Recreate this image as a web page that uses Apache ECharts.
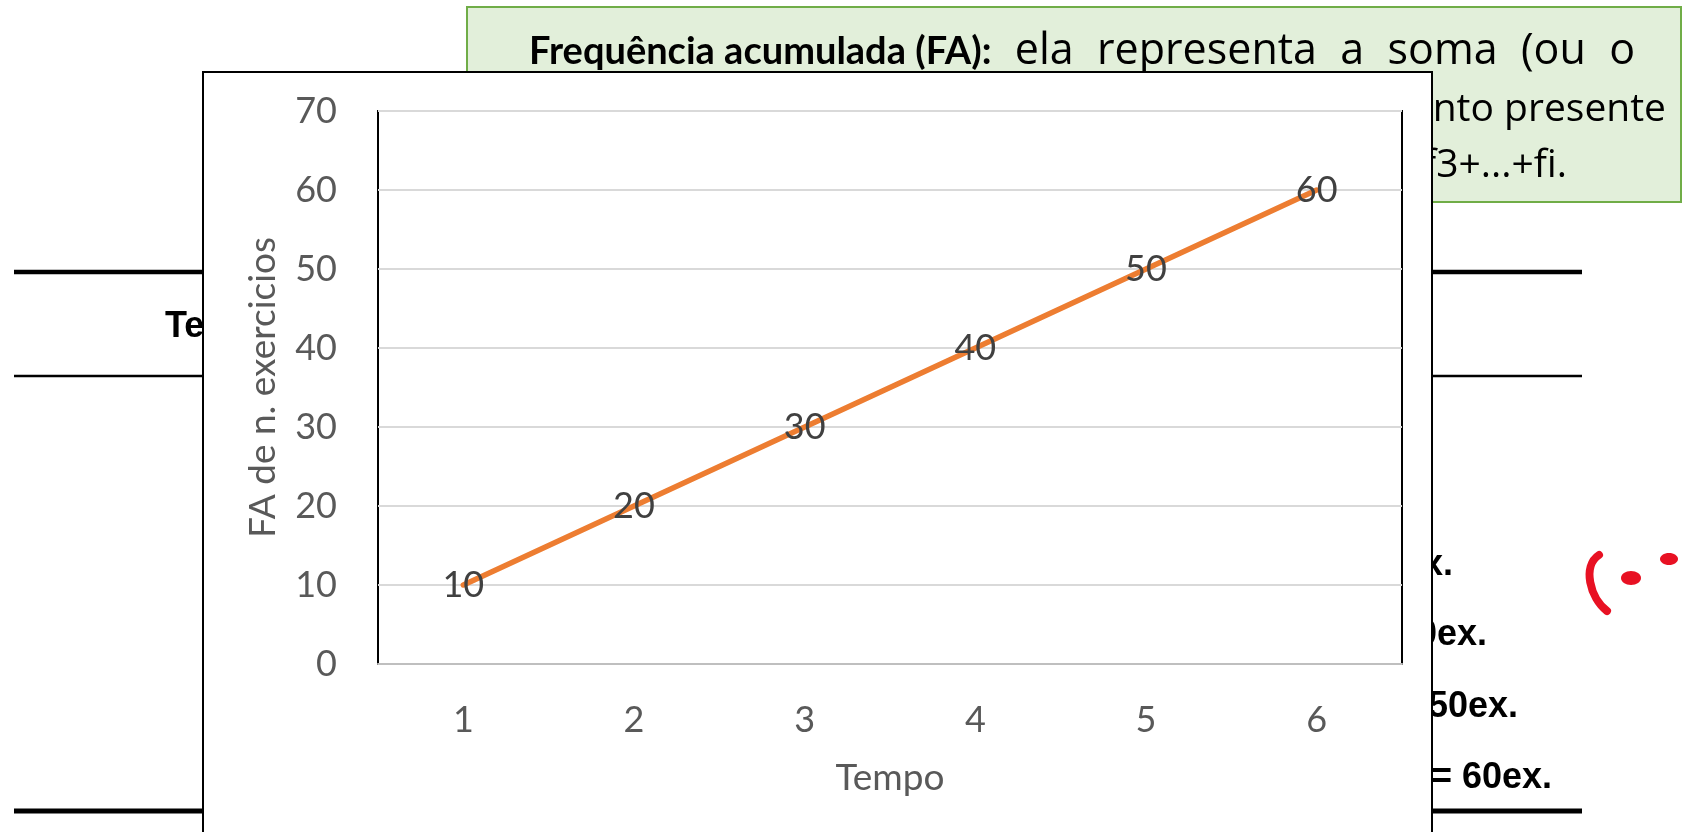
<!DOCTYPE html>
<html>
<head>
<meta charset="utf-8">
<script src="https://cdn.jsdelivr.net/npm/echarts@6/dist/echarts.min.js"></script>
<style>
  html, body { margin: 0; padding: 0; background: #fff; }
  #chart { width: 1683px; height: 832px; }
</style>
</head>
<body>
<div id="chart"></div>
<script>
// dados do grafico
var categories = ['1', '2', '3', '4', '5', '6']
var faValues = [10, 20, 30, 40, 50, 60]
var yMin = 0, yMax = 70, yStep = 10

// textos do slide por tras do grafico
var boxBold = 'Frequência acumulada (FA):'
var boxLines = [
  'ela representa a soma (ou o',
  'acúmulo) das frequências absolutas até o elemento presente',
  'na posição i, ou seja: FAi = f1+f2+f3+...+fi.'
]
var rowTexts = ['FA3 = 10+10+10 = 30ex.', 'FA4 = 10+10+10+10 = 40ex.', 'FA5 = 10+10+10+10+10 = 50ex.', 'FA6 = 10+10+10+10+10+10 = 60ex.']

var font = 'Lato, "Noto Sans", sans-serif'
var boxFont = '"Open Sans", "Noto Sans", sans-serif'
var bold = '"Liberation Sans", Arial, sans-serif'

var myChart = echarts.init(document.getElementById('chart'))

var bg = [
  // caixa verde
  { type: 'rect', z: -10, shape: { x: 467, y: 7, width: 1214, height: 195 },
    style: { fill: '#E2EFDA', stroke: '#70AD47', lineWidth: 2 } },
  { type: 'text', z: -9, x: 529, y: 52,
    style: { text: boxBold, verticalAlign: 'middle', fontSize: 38, fontWeight: 'bold', fontFamily: font, fill: '#000' } },
  { type: 'text', z: -9, x: 1666, y: 110,
    style: { text: boxLines[1], align: 'right', verticalAlign: 'middle', fontSize: 39, fontFamily: boxFont, fill: '#000' } },
  { type: 'text', z: -9, x: 1567, y: 166,
    style: { text: boxLines[2], align: 'right', verticalAlign: 'middle', fontSize: 39, fontFamily: boxFont, fill: '#000' } },
  // linhas da tabela
  { type: 'line', z: -10, shape: { x1: 14, y1: 272, x2: 1582, y2: 272 }, style: { stroke: '#000', lineWidth: 4.5 } },
  { type: 'line', z: -10, shape: { x1: 14, y1: 376, x2: 1582, y2: 376 }, style: { stroke: '#000', lineWidth: 2.5 } },
  { type: 'line', z: -10, shape: { x1: 14, y1: 811, x2: 1582, y2: 811 }, style: { stroke: '#000', lineWidth: 5 } },
  { type: 'text', z: -9, x: 165, y: 327,
    style: { text: 'Tempo', verticalAlign: 'middle', font: 'bold 36px ' + bold, fill: '#000' } },
  // marcas vermelhas
  { type: 'bezierCurve', z: 5, shape: { x1: 1599, y1: 555, x2: 1607, y2: 611, cpx1: 1582, cpy1: 566, cpx2: 1590, cpy2: 598 },
    style: { stroke: '#E81123', lineWidth: 8, fill: null, lineCap: 'round' } },
  { type: 'ellipse', z: 5, shape: { cx: 1631, cy: 578, rx: 10, ry: 7 }, style: { fill: '#E81123' } },
  { type: 'ellipse', z: 5, shape: { cx: 1669, cy: 559, rx: 9, ry: 6 }, style: { fill: '#E81123' } },
  // moldura do grafico
  { type: 'rect', z: -5, shape: { x: 203, y: 72, width: 1229, height: 800 },
    style: { fill: '#fff', stroke: '#000', lineWidth: 2 } }
]

// primeira linha espalhada ate a margem direita
var ctx = document.createElement('canvas').getContext('2d')
ctx.font = 'bold 38px ' + font
var boldW = ctx.measureText(boxBold).width
ctx.font = '43px ' + boxFont
var words = boxLines[0].split(' ')
var wordsW = words.map(function (w) { return ctx.measureText(w).width })
var lineStart = 529, lineEnd = 1635
var gap = (lineEnd - lineStart - boldW - wordsW.reduce(function (a, b) { return a + b }, 0)) / words.length
var wx = lineStart + boldW + gap
words.forEach(function (w, i) {
  bg.push({ type: 'text', z: -9, x: wx, y: 52,
    style: { text: w, verticalAlign: 'middle', fontSize: 43, fontFamily: boxFont, fill: '#000' } })
  wx += wordsW[i] + gap
})

var rowY = [565, 635, 707, 778]
var rowX = [1453, 1487, 1518, 1552]
rowTexts.forEach(function (t, i) {
  bg.push({ type: 'text', z: -9, x: rowX[i], y: rowY[i],
    style: { text: t, align: 'right', verticalAlign: 'middle', font: 'bold 36px ' + bold, fill: '#000' } })
})

var option = {
  animation: false,
  graphic: bg,
  grid: { left: 378, top: 111, right: 281, bottom: 168, show: true, borderColor: '#000', borderWidth: 2, backgroundColor: 'transparent' },
  xAxis: {
    type: 'category',
    data: categories,
    name: 'Tempo',
    nameLocation: 'middle',
    nameGap: 96,
    nameTextStyle: { fontSize: 37, color: '#595959', fontFamily: font },
    axisLine: { lineStyle: { color: '#BFBFBF', width: 2 } },
    axisTick: { show: false },
    axisLabel: { fontSize: 36, color: '#595959', fontFamily: font, margin: 38 }
  },
  yAxis: {
    type: 'value',
    min: yMin, max: yMax, interval: yStep,
    name: 'FA de n. exercicios',
    nameLocation: 'middle',
    nameGap: 96,
    nameTextStyle: { fontSize: 37, color: '#595959', fontFamily: font },
    axisLine: { show: false },
    axisTick: { show: false },
    splitLine: { lineStyle: { color: '#D9D9D9', width: 2 } },
    axisLabel: { fontSize: 36, color: '#595959', fontFamily: font, margin: 41 }
  },
  series: [{
    type: 'line',
    data: faValues,
    symbol: 'circle',
    symbolSize: 4,
    itemStyle: { color: '#ED7D31' },
    lineStyle: { color: '#ED7D31', width: 5.5, cap: 'round' },
    label: { show: true, position: 'inside', fontSize: 36, color: '#404040', fontFamily: font }
  }]
}

myChart.setOption(option)
</script>
</body>
</html>
